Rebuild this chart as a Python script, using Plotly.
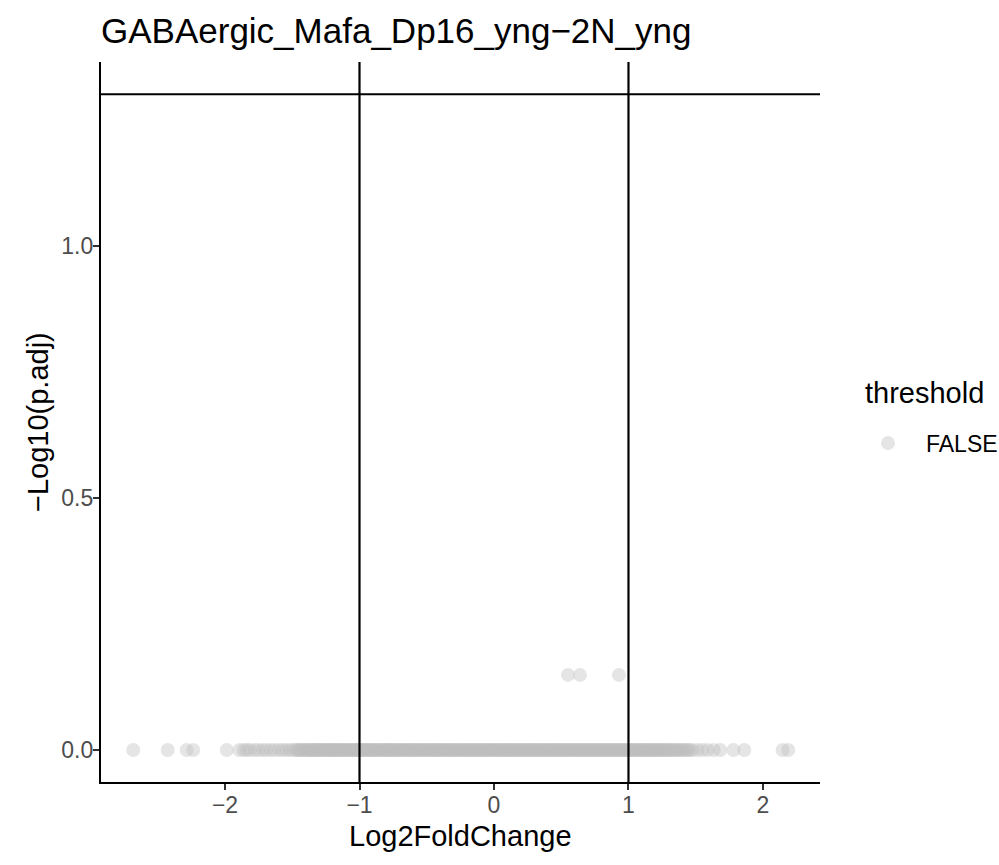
import plotly.graph_objects as go

# ---- data ----
title_text = "GABAergic_Mafa_Dp16_yng\u22122N_yng"
legend_title = "threshold"
legend_label = "FALSE"

# genes with -log10(p.adj) ~ 0 (bottom band), full spread
log2fc_band = [
    -2.682, -2.426, -2.285, -2.236, -1.987, -1.893, -1.862, -1.838, -1.815, -1.779,
    -1.752, -1.718, -1.694, -1.661, -1.633, -1.598, -1.572, -1.547, -1.519, -1.496,
    -1.472, -1.451, -1.433, -1.412, -1.394, -1.376, -1.355, -1.338, -1.317, -1.298,
    -1.279, -1.262, -1.241, -1.223, -1.204, -1.186, -1.165, -1.147, -1.128, -1.109,
    -1.088, -1.071, -1.052, -1.034, -1.016,
    -0.997, -0.978, -0.961, -0.939, -0.921, -0.902, -0.884, -0.862, -0.843, -0.821,
    -0.803, -0.785, -0.764, -0.746, -0.722, -0.705, -0.683, -0.667, -0.644, -0.626,
    -0.604, -0.586, -0.565, -0.543, -0.527, -0.506, -0.484, -0.466, -0.445, -0.423,
    -0.407, -0.385, -0.366, -0.344, -0.327, -0.303, -0.286, -0.264, -0.247, -0.225,
    -0.206, -0.184, -0.167, -0.145, -0.126, -0.104, -0.086, -0.063, -0.047, -0.024,
    -0.006, 0.013, 0.034, 0.052, 0.073, 0.091, 0.114, 0.132, 0.153, 0.171,
    0.194, 0.212, 0.233, 0.251, 0.274, 0.292, 0.313, 0.331, 0.354, 0.372,
    0.393, 0.411, 0.434, 0.452, 0.473, 0.491, 0.514, 0.532, 0.553, 0.571,
    0.594, 0.612, 0.633, 0.651, 0.674, 0.692, 0.713, 0.731, 0.754, 0.772,
    0.793, 0.811, 0.834, 0.852, 0.873, 0.891, 0.914, 0.932, 0.953, 0.971,
    0.994, 1.012, 1.033, 1.051, 1.074, 1.092, 1.113, 1.131, 1.154, 1.172,
    1.193, 1.214, 1.236, 1.259, 1.281, 1.305, 1.331, 1.356, 1.384, 1.412,
    1.443, 1.476, 1.512, 1.548, 1.587, 1.634, 1.682, 1.780, 1.861, 2.146, 2.188,
]

# more genes with -log10(p.adj) ~ 0, concentrated in the dense core of the band
log2fc_band_core = [
    -1.462, -1.437, -1.405, -1.383, -1.362, -1.344, -1.322, -1.307, -1.287, -1.268,
    -1.249, -1.231, -1.213, -1.195, -1.176, -1.157, -1.138, -1.119, -1.098, -1.079,
    -1.061, -1.043, -1.025, -1.006, -0.988, -0.969, -0.951, -0.931, -0.912, -0.893,
    -0.873, -0.853, -0.833, -0.812, -0.794, -0.775, -0.755, -0.734, -0.714, -0.695,
    -0.675, -0.655, -0.635, -0.615, -0.596, -0.575, -0.554, -0.535, -0.516, -0.495,
    -0.475, -0.455, -0.434, -0.415, -0.396, -0.375, -0.355, -0.336, -0.315, -0.295,
    -0.275, -0.256, -0.235, -0.215, -0.196, -0.176, -0.156, -0.135, -0.115, -0.095,
    -0.075, -0.056, -0.035, -0.015, 0.004, 0.024, 0.043, 0.063, 0.082, 0.103,
    0.123, 0.142, 0.162, 0.183, 0.203, 0.222, 0.242, 0.263, 0.283, 0.302,
    0.322, 0.343, 0.363, 0.382, 0.402, 0.423, 0.443, 0.462, 0.482, 0.503,
    0.523, 0.542, 0.562, 0.583, 0.603, 0.622, 0.642, 0.663, 0.683, 0.702,
    0.722, 0.743, 0.763, 0.782, 0.802, 0.823, 0.843, 0.862, 0.882, 0.903,
    0.923, 0.942, 0.962, 0.983, 1.003, 1.022, 1.042, 1.063, 1.083, 1.102,
    1.123, 1.145, 1.166, 1.188, 1.209, 1.232, 1.254, 1.277, 1.299, 1.322,
    1.347, 1.372, 1.398, 1.426, 1.455,
]
band_neglog10_padj = 0.0

# genes slightly raised
log2fc_raised = [0.550, 0.639, 0.929]
neglog10_padj_raised = [0.149, 0.149, 0.149]

# thresholds
fc_cutoffs = [-1, 1]
padj_cutoff_neglog10 = 1.301  # -log10(0.05)

x_ticks = [-2, -1, 0, 1, 2]
y_ticks = [0.0, 0.5, 1.0]
y_tick_text = ["0.0", "0.5", "1.0"]

# ---- figure ----
band_x = log2fc_band + log2fc_band_core
xs = band_x + log2fc_raised
ys = [band_neglog10_padj] * len(band_x) + neglog10_padj_raised

FONT = "Liberation Sans, Arial, sans-serif"
W, H = 999, 865
L, R, T, B = 101, 179, 62, 83
PW, PH = W - L - R, H - T - B

fig = go.Figure()
fig.add_trace(go.Scatter(
    x=xs, y=ys, mode="markers", name=legend_label,
    marker=dict(color="#BEBEBE", opacity=0.4, size=14, line=dict(width=0)),
    showlegend=True,
))

line_style = dict(color="black", width=2.2)
fig.add_shape(type="line", xref="paper", x0=0, x1=1, yref="y",
              y0=padj_cutoff_neglog10, y1=padj_cutoff_neglog10, line=line_style)
for c in fc_cutoffs:
    fig.add_shape(type="line", xref="x", x0=c, x1=c, yref="paper",
                  y0=0, y1=1, line=line_style)

axis_common = dict(
    showline=True, linecolor="black", linewidth=2.2,
    ticks="outside", ticklen=6, tickwidth=2.2, tickcolor="#333333",
    tickfont=dict(family=FONT, size=23, color="#4D4D4D"),
    showgrid=False, zeroline=False, automargin=False,
    ticklabelstandoff=-5,
)

fig.update_layout(
    width=W, height=H, autosize=False,
    margin=dict(l=L, r=R, t=T, b=B, autoexpand=False),
    paper_bgcolor="white", plot_bgcolor="white",
    title=dict(text=title_text, x=0, xref="paper", xanchor="left",
               y=1 - 30.5 / H, yref="container", yanchor="middle",
               font=dict(family=FONT, size=35, color="black")),
    xaxis=dict(range=[-2.922, 2.424], tickvals=x_ticks, **axis_common),
    yaxis=dict(range=[-0.0635, 1.365], tickvals=y_ticks, ticktext=y_tick_text,
               **axis_common),
    legend=dict(
        font=dict(family=FONT, size=23, color="black"),
        x=(850 - L) / PW, xanchor="left",
        y=(H - B - 443) / PH, yanchor="middle",
        itemwidth=66, bgcolor="rgba(0,0,0,0)",
    ),
    annotations=[
        dict(text=legend_title, xref="paper", yref="paper",
             x=(863 - L) / PW, y=(H - B - 393) / PH,
             xanchor="left", yanchor="middle", showarrow=False,
             font=dict(family=FONT, size=29, color="black")),
        dict(text="Log2FoldChange", xref="paper", yref="paper", x=0.5,
             y=-(836 - (H - B)) / PH, xanchor="center", yanchor="middle",
             showarrow=False, font=dict(family=FONT, size=29, color="black")),
        dict(text="\u2212Log10(p.adj)", xref="paper", yref="paper",
             x=-(L - 38) / PW, y=0.5, xanchor="center", yanchor="middle",
             textangle=-90, showarrow=False,
             font=dict(family=FONT, size=29, color="black")),
    ],
)

post = (
    "document.documentElement.style.overflow='hidden';"
    "document.body.style.margin='0';"
    "document.body.style.overflow='hidden';"
)

fig.write_html(
    "out.html",
    config={"responsive": False, "displayModeBar": False},
    post_script=post,
)
